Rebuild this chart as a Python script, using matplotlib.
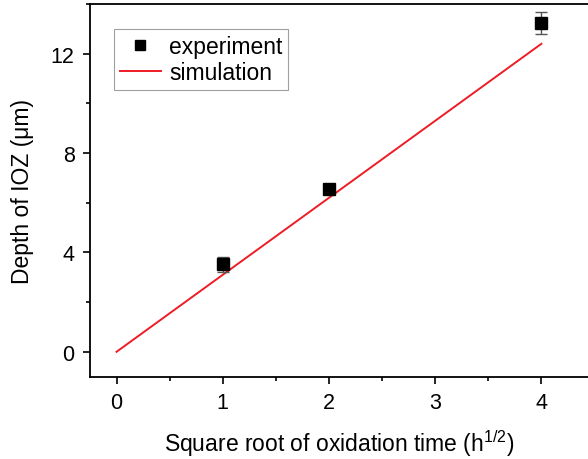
import matplotlib
matplotlib.use("Agg")
import matplotlib.pyplot as plt
from matplotlib.lines import Line2D
from matplotlib.ticker import MultipleLocator

plt.rcParams['font.family'] = ['Liberation Sans', 'DejaVu Sans']
plt.rcParams['mathtext.fontset'] = 'custom'
plt.rcParams['mathtext.rm'] = 'Liberation Sans'

# experiment data
exp_x = [1, 2, 4]
exp_y = [3.52, 6.57, 13.24]
exp_err = [0.3, 0.15, 0.45]

# simulation line
sim_x = [0, 4]
sim_y = [0, 12.4]

fig = plt.figure(figsize=(5.88, 4.6), dpi=100)
ax = fig.add_axes([0.153, 0.179, 0.849, 0.81])

ax.plot(sim_x, sim_y, color="#ee1c25", lw=1.4, zorder=2)
ax.errorbar(exp_x, exp_y, yerr=exp_err, fmt="s", color="black", ms=8,
            ecolor="#555555", elinewidth=1, capsize=4, capthick=1, zorder=3)

ax.set_xlim(-0.25, 4.45)
ax.set_ylim(-1, 14)
ax.xaxis.set_major_locator(MultipleLocator(1))
ax.xaxis.set_minor_locator(MultipleLocator(0.5))
ax.yaxis.set_major_locator(MultipleLocator(4))
ax.yaxis.set_minor_locator(MultipleLocator(2))
ax.tick_params(which="major", direction="out", length=5, width=1.2, labelsize=15.5, pad=6)
ax.tick_params(which="minor", direction="out", length=3, width=1.2)
for s in ["left", "bottom", "top"]:
    ax.spines[s].set_linewidth(1.3)
ax.spines["right"].set_visible(False)

ax.set_xlabel("Square root of oxidation time (h$^{\\mathrm{1/2}}$)", fontsize=16.5, labelpad=10)
ax.set_ylabel("Depth of IOZ (μm)", fontsize=16.5, labelpad=12)

handles = [Line2D([], [], ls="none", marker="s", color="black", ms=7),
           Line2D([], [], color="#ee1c25", lw=1.4)]
leg = ax.legend(handles, ["experiment", "simulation"], loc="upper left",
                bbox_to_anchor=(0.048, 0.933), fontsize=16.5, frameon=True,
                fancybox=False, edgecolor="#888888", handlelength=1.8,
                handletextpad=0.35, borderpad=0.25, labelspacing=0.15,
                borderaxespad=0)
leg.get_frame().set_linewidth(0.8)

fig.savefig("out.png", dpi=100)
